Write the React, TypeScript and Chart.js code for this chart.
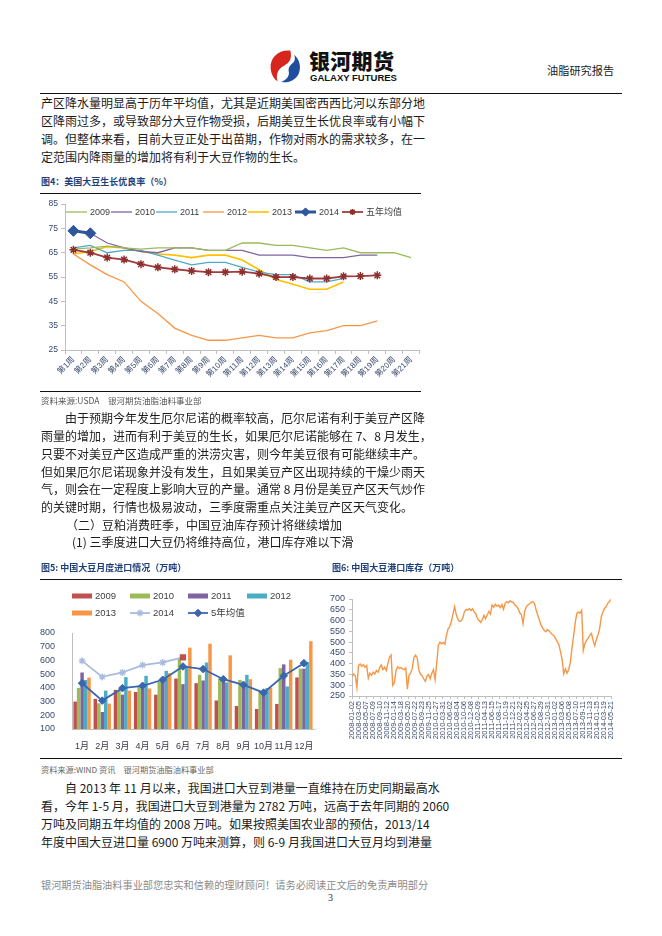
import React, { useEffect, useRef } from 'react';
import { Chart, registerables } from 'chart.js';

Chart.register(...registerables);

const SANS = "'Liberation Sans', 'Noto Sans CJK SC', sans-serif";
const CJK = "'Noto Sans CJK SC', sans-serif";
Chart.defaults.font.family = SANS;

// ---------- 图4：美国大豆生长优良率（%）
const WEEKS = ['第1周', '第2周', '第3周', '第4周', '第5周', '第6周', '第7周', '第8周', '第9周', '第10周', '第11周', '第12周', '第13周', '第14周', '第15周', '第16周', '第17周', '第18周', '第19周', '第20周', '第21周'];
const GR_2009 = [66.5, 67, 67.7, 67, 66.5, 67, 67, 67, 66, 66, 69, 69, 68, 68, 67, 66, 67, 65, 65, 65, 63];
const GR_2010 = [74, 73, 69, 67, 65.5, 65, 67, 67, 66, 66, 66, 64, 64, 64, 63, 63, 63, 64, 64];
const GR_2011 = [67, 68, 65, 66, 66, 64, 62, 60, 61, 61, 59, 57, 56, 56, 53, 53, 54.5];
const GR_2012 = [64.5, 60, 56, 53, 45, 40, 34, 31, 29, 29, 30, 31, 30, 30, 32, 33, 35, 35, 37];
const GR_2013 = [64.5, 65.5, 67.5, 67, 65.5, 64.5, 64, 63, 64, 64, 62, 58, 54, 52, 50, 50, 53];
const GR_2014 = [74, 73];
const GR_AVG = [66.2, 65, 63, 62.2, 60.3, 59, 58.2, 57.5, 57, 57, 57.2, 56.4, 55, 55, 54.4, 54.4, 55.3, 55.4, 55.7];
const GR_MIN = 25;
const GR_MAX = 85;
const GR_STEP = 10;

// ---------- 图5：中国大豆月度进口情况（万吨）
const MONTHS = ['1月', '2月', '3月', '4月', '5月', '6月', '7月', '8月', '9月', '10月', '11月', '12月'];
const IMP_2009 = [300, 320, 385, 370, 350, 468, 434, 308, 268, 246, 283, 476];
const IMP_2010 = [400, 288, 380, 410, 444, 610, 495, 470, 458, 378, 544, 540];
const IMP_2011 = [512, 224, 350, 393, 456, 427, 454, 450, 410, 385, 571, 540];
const IMP_2012 = [458, 380, 478, 488, 524, 560, 585, 440, 495, 398, 410, 588];
const IMP_2013 = [475, 285, 380, 395, 507, 693, 722, 637, 463, 402, 605, 740];
const IMP_2014 = [597, 480, 512, 566, 585, 622];
const IMP_AVG = [434, 307, 398, 415, 459, 556, 537, 463, 422, 365, 488, 580];
const IMP_MIN = 100;
const IMP_MAX = 800;
const IMP_STEP = 100;

// ---------- 图6：中国大豆港口库存（万吨）
const PORT_DATES = ['2008-01-02', '2008-03-05', '2008-05-07', '2008-07-09', '2008-09-10', '2008-11-12', '2009-01-14', '2009-03-18', '2009-05-20', '2009-07-22', '2009-09-23', '2009-11-25', '2010-01-27', '2010-03-31', '2010-06-02', '2010-08-04', '2010-10-06', '2010-12-08', '2011-02-09', '2011-04-13', '2011-06-15', '2011-08-17', '2011-10-19', '2011-12-21', '2012-02-22', '2012-04-25', '2012-06-27', '2012-08-29', '2012-10-31', '2013-01-02', '2013-03-06', '2013-05-08', '2013-07-10', '2013-09-11', '2013-11-13', '2014-01-15', '2014-03-19', '2014-05-21'];
const PORT_STOCK = [
  340, 352, 345, 290, 392, 398, 388, 395, 384, 392,
  332, 356, 346, 360, 352, 368, 360, 382, 394, 372,
  384, 368, 400, 430, 440, 300, 312, 368, 386, 378,
  382, 376, 372, 380, 282, 346, 356, 378, 430, 440,
  430, 372, 352, 344, 330, 318, 342, 350, 330, 356,
  372, 326, 400, 486, 500, 492, 498, 490, 532, 562,
  572, 594, 632, 664, 628, 606, 596, 598, 612, 640,
  652, 648, 656, 646, 655, 640, 632, 610, 600, 592,
  604, 624, 608, 626, 642, 630, 672, 662, 676, 666,
  672, 660, 674, 652, 680, 688, 682, 692, 686, 684,
  672, 666, 654, 636, 626, 586, 642, 664, 672, 678,
  684, 688, 680, 650, 626, 604, 580, 566, 554, 548,
  558, 552, 544, 534, 530, 516, 502, 488, 456, 418,
  352, 376, 356, 372, 404, 470, 526, 588, 632, 640,
  634, 648, 462, 494, 508, 518, 532, 540, 508, 484,
  512, 534, 560, 616, 640, 656, 664, 680, 688, 698,
];
const PORT_MIN = 250;
const PORT_MAX = 700;
const PORT_STEP = 50;

const AXIS_TXT = '#3A4A6E';
const AXIS_LINE = '#BFBFBF';

function drawMarker(ctx: CanvasRenderingContext2D, style: string, x: number, y: number, r: number, fill: string, stroke: string, lw: number) {
  ctx.save();
  ctx.lineWidth = lw;
  ctx.strokeStyle = stroke;
  ctx.fillStyle = fill;
  ctx.beginPath();
  if (style === 'rectRot') {
    ctx.moveTo(x, y - r);
    ctx.lineTo(x + r, y);
    ctx.lineTo(x, y + r);
    ctx.lineTo(x - r, y);
    ctx.closePath();
    ctx.fill();
    ctx.stroke();
  } else if (style === 'star') {
    const d = r * Math.SQRT1_2;
    ctx.moveTo(x - r, y); ctx.lineTo(x + r, y);
    ctx.moveTo(x, y - r); ctx.lineTo(x, y + r);
    ctx.moveTo(x - d, y - d); ctx.lineTo(x + d, y + d);
    ctx.moveTo(x - d, y + d); ctx.lineTo(x + d, y - d);
    ctx.stroke();
  } else if (style === 'rect') {
    const s = r * Math.SQRT1_2;
    ctx.rect(x - s, y - s, 2 * s, 2 * s);
    ctx.fill();
    ctx.stroke();
  }
  ctx.restore();
}

const excelLegend = {
  id: 'excelLegend',
  afterDraw(chart: any, _args: any, opts: any) {
    if (!opts || !opts.items) return;
    const ctx: CanvasRenderingContext2D = chart.ctx;
    ctx.save();
    for (const it of opts.items) {
      const ds = chart.data.datasets[it.index];
      const len = opts.symbolWidth;
      if (it.kind === 'box') {
        ctx.fillStyle = ds.backgroundColor;
        ctx.fillRect(it.x, it.y - opts.boxHeight / 2, len, opts.boxHeight);
      } else {
        ctx.strokeStyle = ds.borderColor;
        ctx.lineWidth = ds.borderWidth;
        ctx.beginPath();
        ctx.moveTo(it.x, it.y);
        ctx.lineTo(it.x + len, it.y);
        ctx.stroke();
        const style = Array.isArray(ds.pointStyle) ? ds.pointStyle[0] : ds.pointStyle;
        const r = Array.isArray(ds.pointRadius) ? ds.pointRadius[0] : ds.pointRadius;
        if (style && r > 0) {
          const fill = Array.isArray(ds.pointBackgroundColor) ? ds.pointBackgroundColor[0] : (ds.pointBackgroundColor || ds.borderColor);
          const stroke = Array.isArray(ds.pointBorderColor) ? ds.pointBorderColor[0] : (ds.pointBorderColor || ds.borderColor);
          drawMarker(ctx, style, it.x + len / 2, it.y, r * (opts.markerScale || 1), fill, stroke, ds.pointBorderWidth || 1);
        }
      }
      ctx.fillStyle = opts.color;
      ctx.font = opts.font;
      ctx.textBaseline = 'middle';
      ctx.textAlign = 'left';
      ctx.fillText(ds.label, it.x + len + opts.gap, it.y + 0.5);
    }
    ctx.restore();
  },
};

function ChartBox({ left, top, width, height, make }: { left: number; top: number; width: number; height: number; make: () => any }) {
  const ref = useRef<HTMLCanvasElement>(null);
  useEffect(() => {
    const chart = new Chart(ref.current as HTMLCanvasElement, make());
    return () => chart.destroy();
  }, []);
  return (
    <div style={{ position: 'absolute', left, top, width, height }}>
      <canvas ref={ref} />
    </div>
  );
}

function growthConfig() {
  const thin = (label: string, data: number[], color: string, w = 1.3) => ({
    label, data, borderColor: color, backgroundColor: color, borderWidth: w, pointRadius: 0, order: 2,
  });
  return {
    type: 'line',
    data: {
      labels: WEEKS,
      datasets: [
        thin('2009', GR_2009, '#9BBB59'),
        thin('2010', GR_2010, '#8064A2'),
        thin('2011', GR_2011, '#4BACC6'),
        thin('2012', GR_2012, '#F79646'),
        thin('2013', GR_2013, '#FFC000', 1.6),
        {
          label: '2014', data: GR_2014, borderColor: '#2F559C', backgroundColor: '#2F559C', borderWidth: 3,
          pointStyle: 'rectRot', pointRadius: 5.5, pointBackgroundColor: '#2F559C', pointBorderColor: '#2F559C', pointBorderWidth: 1, order: 0,
        },
        {
          label: '五年均值', data: GR_AVG, borderColor: '#A23C3A', backgroundColor: '#A23C3A', borderWidth: 1.8,
          pointStyle: 'star', pointRadius: 4, pointBorderColor: '#8E2F2E', pointBorderWidth: 1.5, order: 1,
        },
      ],
    },
    options: {
      animation: false,
      responsive: true,
      maintainAspectRatio: false,
      layout: { padding: { top: 7, right: 6, left: 0, bottom: 0 } },
      elements: { line: { tension: 0 } },
      plugins: {
        legend: { display: false },
        tooltip: { enabled: false },
        excelLegend: {
          symbolWidth: 21, gap: 3, boxHeight: 5, color: '#404040', font: `9px ${SANS}`, markerScale: 0.75,
          items: [
            { index: 0, x: 30, y: 16, kind: 'line' },
            { index: 1, x: 75, y: 16, kind: 'line' },
            { index: 2, x: 120, y: 16, kind: 'line' },
            { index: 3, x: 167, y: 16, kind: 'line' },
            { index: 4, x: 212, y: 16, kind: 'line' },
            { index: 5, x: 259, y: 16, kind: 'line' },
            { index: 6, x: 306, y: 16, kind: 'line' },
          ],
        },
      },
      scales: {
        x: {
          offset: true,
          grid: { display: true, drawOnChartArea: false, offset: true, tickLength: 4, color: AXIS_LINE },
          border: { color: AXIS_LINE },
          ticks: { minRotation: 45, maxRotation: 45, autoSkip: false, font: { size: 8, family: SANS }, color: AXIS_TXT, padding: 1 },
          afterFit(s: any) { s.height = 42; },
        },
        y: {
          min: GR_MIN, max: GR_MAX,
          ticks: { stepSize: GR_STEP, autoSkip: false, font: { size: 8.5 }, color: AXIS_TXT, padding: 3 },
          grid: { display: true, drawOnChartArea: false, tickLength: 4, color: AXIS_LINE },
          border: { color: AXIS_LINE },
          afterFit(s: any) { s.width = 29; },
        },
      },
    },
    plugins: [excelLegend],
  };
}

function importConfig() {
  const bar = (label: string, data: number[], color: string) => ({
    type: 'bar', label, data, backgroundColor: color, borderWidth: 0, order: 2,
  });
  const s2014 = IMP_2014.map((_, i) => (i === IMP_2014.length - 1 ? 'rect' : 'star'));
  const c2014 = IMP_2014.map((_, i) => (i === IMP_2014.length - 1 ? '#C0504D' : '#A9BBDD'));
  return {
    type: 'bar',
    data: {
      labels: MONTHS,
      datasets: [
        bar('2009', IMP_2009, '#C0504D'),
        bar('2010', IMP_2010, '#9BBB59'),
        bar('2011', IMP_2011, '#8064A2'),
        bar('2012', IMP_2012, '#4BACC6'),
        bar('2013', IMP_2013, '#F79646'),
        {
          type: 'line', label: '2014', data: IMP_2014, borderColor: '#A9BBDD', backgroundColor: '#A9BBDD', borderWidth: 1.8,
          pointStyle: s2014, pointRadius: 3.5, pointBackgroundColor: c2014, pointBorderColor: c2014, pointBorderWidth: 1.3, order: 1,
        },
        {
          type: 'line', label: '5年均值', data: IMP_AVG, borderColor: '#3A66AD', backgroundColor: '#3A66AD', borderWidth: 1.8,
          pointStyle: 'rectRot', pointRadius: 3.8, pointBackgroundColor: '#3A66AD', pointBorderColor: '#3A66AD', pointBorderWidth: 1, order: 0,
        },
      ],
    },
    options: {
      animation: false,
      responsive: true,
      maintainAspectRatio: false,
      layout: { padding: { top: 50, right: 6, left: 0, bottom: 0 } },
      elements: { line: { tension: 0 } },
      datasets: { bar: { categoryPercentage: 0.86, barPercentage: 1 } },
      plugins: {
        legend: { display: false },
        tooltip: { enabled: false },
        excelLegend: {
          symbolWidth: 20, gap: 3, boxHeight: 5, color: '#404040', font: `9.5px ${SANS}`,
          items: [
            { index: 0, x: 34, y: 13, kind: 'box' },
            { index: 1, x: 92, y: 13, kind: 'box' },
            { index: 2, x: 150, y: 13, kind: 'box' },
            { index: 3, x: 209, y: 13, kind: 'box' },
            { index: 4, x: 34, y: 30, kind: 'box' },
            { index: 5, x: 92, y: 30, kind: 'line' },
            { index: 6, x: 150, y: 30, kind: 'line' },
          ],
        },
      },
      scales: {
        x: {
          grid: { display: false },
          border: { color: AXIS_LINE },
          ticks: { font: { size: 9, family: SANS }, color: '#3A3A4A', padding: 4, autoSkip: false, maxRotation: 0 },
          afterFit(s: any) { s.height = 26; },
        },
        y: {
          min: IMP_MIN, max: IMP_MAX,
          ticks: { stepSize: IMP_STEP, autoSkip: false, font: { size: 9 }, color: AXIS_TXT, padding: 9 },
          grid: { display: false },
          border: { color: AXIS_LINE },
          afterFit(s: any) { s.width = 34; },
        },
      },
    },
    plugins: [excelLegend],
  };
}

function portConfig() {
  const n = PORT_STOCK.length;
  return {
    type: 'line',
    data: {
      datasets: [
        {
          label: '港口库存', data: PORT_STOCK.map((y, i) => ({ x: i, y })), borderColor: '#F79646', backgroundColor: '#F79646',
          borderWidth: 1.4, pointRadius: 0,
        },
      ],
    },
    options: {
      animation: false,
      responsive: true,
      maintainAspectRatio: false,
      layout: { padding: { top: 16, right: 5, left: 0, bottom: 0 } },
      elements: { line: { tension: 0 } },
      plugins: { legend: { display: false }, tooltip: { enabled: false } },
      scales: {
        x: {
          type: 'linear', min: 0, max: n - 1,
          afterBuildTicks(scale: any) {
            scale.ticks = PORT_DATES.map((_, i) => ({ value: (i * (n - 1)) / (PORT_DATES.length - 1) }));
          },
          grid: { display: true, drawOnChartArea: false, tickLength: 3, color: AXIS_LINE },
          border: { color: AXIS_LINE },
          ticks: {
            autoSkip: false, minRotation: 90, maxRotation: 90, font: { size: 7.5 }, color: AXIS_TXT, padding: 2,
            callback: (_v: any, i: number) => PORT_DATES[i],
          },
          afterFit(s: any) { s.height = 59; },
        },
        y: {
          min: PORT_MIN, max: PORT_MAX,
          ticks: { stepSize: PORT_STEP, autoSkip: false, font: { size: 9 }, color: AXIS_TXT, padding: 4 },
          grid: { display: true, drawOnChartArea: false, tickLength: 3, color: AXIS_LINE },
          border: { color: AXIS_LINE },
          afterFit(s: any) { s.width = 30; },
        },
      },
    },
  };
}

function TLine({ x, y, w, t, j = true, size = 12, color = '#1c1c1c' }: { x: number; y: number; w: number; t: string; j?: boolean; size?: number; color?: string }) {
  return (
    <div
      style={{
        position: 'absolute', left: x, top: y - 10, width: w, height: 20, lineHeight: '20px', fontSize: size,
        fontFamily: CJK, color, whiteSpace: 'nowrap', textAlign: j ? 'justify' : 'left', textAlignLast: j ? 'justify' : 'left',
      } as React.CSSProperties}
    >
      {t}
    </div>
  );
}

function HR({ x, y, w }: { x: number; y: number; w: number }) {
  return <div style={{ position: 'absolute', left: x, top: y, width: w, height: 0, borderTop: '1px solid #111' }} />;
}

function Title({ x, y, t }: { x: number; y: number; t: string }) {
  return (
    <div style={{ position: 'absolute', left: x, top: y - 7, height: 14, lineHeight: '14px', fontSize: 9, fontWeight: 700, color: '#1F3F7A', fontFamily: CJK, whiteSpace: 'nowrap' }}>
      {t}
    </div>
  );
}

export default function App() {
  return (
    <div style={{ position: 'absolute', left: 0, top: 0, width: 662, height: 936, background: '#fff', overflow: 'hidden' }}>
      {/* header */}
      <svg style={{ position: 'absolute', left: 268, top: 49 }} width={34} height={34} viewBox="0 0 32 32">
        <path d="M21 1.5 C10 0.5 1.5 8 2.5 18.5 C3 24 5.5 28 9 30.5 C7 24 9.5 18.5 15.5 15.5 C20 13 23 9.5 21 1.5 Z" fill="#D7261E" />
        <path d="M24.5 5.5 C29.5 9.5 31.5 16.5 29 23 C26 29.5 19 32.5 12.5 31 C17.5 29 20.5 25 19.5 21 C18.8 18 20.5 15.5 23 13.5 C25.5 11.5 25.8 8.5 24.5 5.5 Z" fill="#1F4E9E" />
      </svg>
      <div style={{ position: 'absolute', left: 309, top: 47, fontSize: 21, lineHeight: '26px', fontWeight: 900, fontFamily: CJK, color: '#111', letterSpacing: 0.3, whiteSpace: 'nowrap' }}>银河期货</div>
      <div style={{ position: 'absolute', left: 310, top: 72, fontSize: 9.5, lineHeight: '11px', fontWeight: 700, fontFamily: "'Liberation Sans', Arial, sans-serif", color: '#111', whiteSpace: 'nowrap' }}>GALAXY FUTURES</div>
      <div style={{ position: 'absolute', left: 547, top: 62, fontSize: 11.2, lineHeight: '16px', fontFamily: CJK, color: '#222', whiteSpace: 'nowrap' }}>油脂研究报告</div>
      <HR x={40} y={93} w={582} />

      {/* paragraph 1 */}
      <TLine x={41} y={103} w={380} t="产区降水量明显高于历年平均值，尤其是近期美国密西西比河以东部分地" />
      <TLine x={41} y={121} w={380} t="区降雨过多，或导致部分大豆作物受损，后期美豆生长优良率或有小幅下" />
      <TLine x={41} y={139} w={380} t="调。但整体来看，目前大豆正处于出苗期，作物对雨水的需求较多，在一" />
      <TLine x={41} y={157} w={380} t="定范围内降雨量的增加将有利于大豆作物的生长。" j={false} />

      {/* figure 4 */}
      <Title x={41} y={182} t="图4：美国大豆生长优良率（%）" />
      <HR x={40} y={193} w={381} />
      <ChartBox left={36} top={196} width={390} height={196} make={growthConfig} />
      <HR x={40} y={391} w={381} />
      <div style={{ position: 'absolute', left: 41, top: 394, fontSize: 8.5, lineHeight: '12px', fontFamily: CJK, color: '#555', whiteSpace: 'nowrap' }}>资料来源:USDA　银河期货油脂油料事业部</div>

      {/* paragraph 2 */}
      <TLine x={65} y={418} w={356} t="由于预期今年发生厄尔尼诺的概率较高，厄尔尼诺有利于美豆产区降" />
      <TLine x={41} y={436} w={376} t="雨量的增加，进而有利于美豆的生长，如果厄尔尼诺能够在 7、8 月发生，" />
      <TLine x={41} y={454} w={380} t="只要不对美豆产区造成严重的洪涝灾害，则今年美豆很有可能继续丰产。" />
      <TLine x={41} y={471.5} w={380} t="但如果厄尔尼诺现象并没有发生，且如果美豆产区出现持续的干燥少雨天" />
      <TLine x={41} y={489} w={380} t="气，则会在一定程度上影响大豆的产量。通常 8 月份是美豆产区天气炒作" />
      <TLine x={41} y={507} w={356} t="的关键时期，行情也极易波动，三季度需重点关注美豆产区天气变化。" />
      <TLine x={66} y={524.5} w={300} t="（二）豆粕消费旺季，中国豆油库存预计将继续增加" j={false} />
      <TLine x={72} y={542} w={300} t="(1)  三季度进口大豆仍将维持高位，港口库存难以下滑" j={false} />

      {/* figures 5 & 6 */}
      <Title x={41} y={568} t="图5: 中国大豆月度进口情况（万吨）" />
      <Title x={332} y={568} t="图6: 中国大豆港口库存（万吨）" />
      <HR x={40} y={579} w={582} />
      <ChartBox left={38} top={583} width={282} height={172} make={importConfig} />
      <ChartBox left={322} top={583} width={300} height={172} make={portConfig} />
      <HR x={40} y={758} w={582} />
      <div style={{ position: 'absolute', left: 41, top: 763, fontSize: 8.2, lineHeight: '12px', fontFamily: CJK, color: '#666', whiteSpace: 'nowrap' }}>资料来源:WIND 资讯　银河期货油脂油料事业部</div>

      {/* paragraph 3 */}
      <TLine x={65} y={788} w={356} t="自 2013 年 11 月以来，我国进口大豆到港量一直维持在历史同期最高水" />
      <TLine x={41} y={806} w={380} t="看，今年 1-5 月，我国进口大豆到港量为 2782 万吨，远高于去年同期的 2060" />
      <TLine x={41} y={824} w={380} t="万吨及同期五年均值的  2008  万吨。如果按照美国农业部的预估，2013/14" />
      <TLine x={41} y={842} w={380} t="年度中国大豆进口量 6900 万吨来测算，则 6-9 月我国进口大豆月均到港量" />

      {/* footer */}
      <TLine x={41} y={885} w={382} t="银河期货油脂油料事业部您忠实和信赖的理财顾问！请务必阅读正文后的免责声明部分" size={10.2} color="#8a8a8a" />
      <div style={{ position: 'absolute', left: 328, top: 891, fontSize: 10, lineHeight: '14px', fontFamily: "'Liberation Serif', serif", color: '#333' }}>3</div>
    </div>
  );
}
